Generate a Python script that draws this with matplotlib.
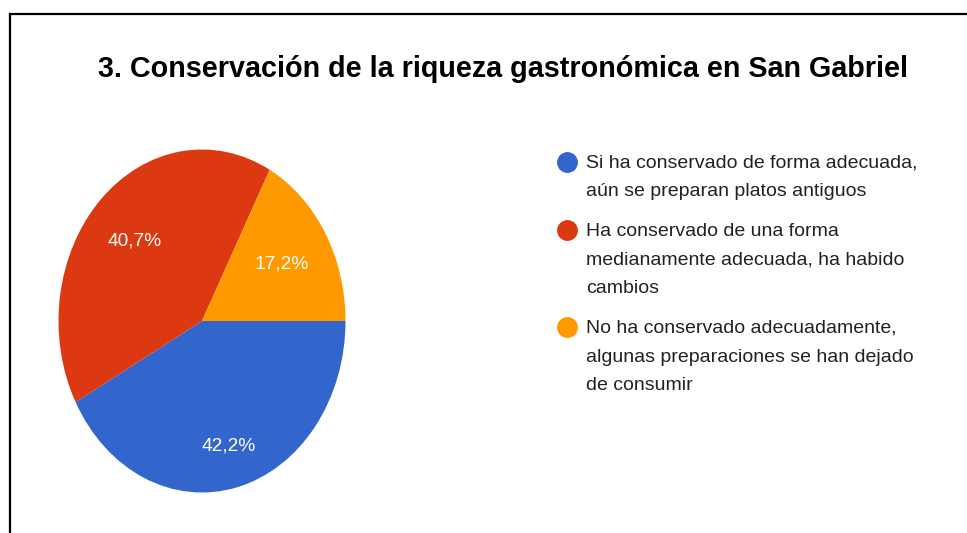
import numpy as np
import matplotlib
matplotlib.use("Agg")
import matplotlib.pyplot as plt
from matplotlib.lines import Line2D

plt.rcParams['font.family'] = ['Liberation Sans', 'DejaVu Sans']

title = "3. Conservación de la riqueza gastronómica en San Gabriel"
labels = [
    ["Si ha conservado de forma adecuada,", "aún se preparan platos antiguos"],
    ["Ha conservado de una forma", "medianamente adecuada, ha habido", "cambios"],
    ["No ha conservado adecuadamente,", "algunas preparaciones se han dejado", "de consumir"],
]
values = [42.2, 40.7, 17.2]
colors = ["#3366CC", "#DC3912", "#FF9900"]
label_dist = [0.75, 0.66, 0.65]

W, H = 967, 533
fig = plt.figure(figsize=(W / 100, H / 100), dpi=100)

# pie axes (screenshot is stretched vertically): center (202, 321), radii 143.5 x 171.5
cx, cy, rx, ry = 202, 321, 143.5, 171.5
ax = fig.add_axes([(cx - rx) / W, (H - cy - ry) / H, 2 * rx / W, 2 * ry / H])
wedges, _ = ax.pie(values, colors=colors, startangle=0, counterclock=False,
                   radius=1, wedgeprops=dict(linewidth=0))
ax.set_xlim(-1, 1)
ax.set_ylim(-1, 1)
ax.set_aspect('auto')
ax.axis('off')

for w, v, d in zip(wedges, values, label_dist):
    mid = np.deg2rad((w.theta1 + w.theta2) / 2)
    ax.text(d * np.cos(mid), d * np.sin(mid), f"{v:.1f}%".replace('.', ','),
            color='white', fontsize=13.8, ha='center', va='center')

fig.text(503 / W, 1 - 69 / H, title, fontsize=20.7, fontweight='bold',
         ha='center', va='center')

# legend drawn by hand: circle + wrapped lines
y = 163
line_h, gap = 28.7, 11
for c, lines in zip(colors, labels):
    fig.add_artist(Line2D([567 / W], [1 - (y - 1) / H], marker='o', markersize=14,
                          markerfacecolor=c, markeredgecolor=c, linestyle='none'))
    for ln in lines:
        fig.text(586 / W, 1 - y / H, ln, fontsize=14, color='#222222',
                 ha='left', va='center')
        y += line_h
    y += gap

# cropped screenshot border (left and top)
fig.add_artist(Line2D([10 / W, 10 / W], [0, 1 - 14 / H], color='black', lw=1.6))
fig.add_artist(Line2D([10 / W, 1], [1 - 14 / H, 1 - 14 / H], color='black', lw=1.6))

fig.savefig("out.png", dpi=100)
